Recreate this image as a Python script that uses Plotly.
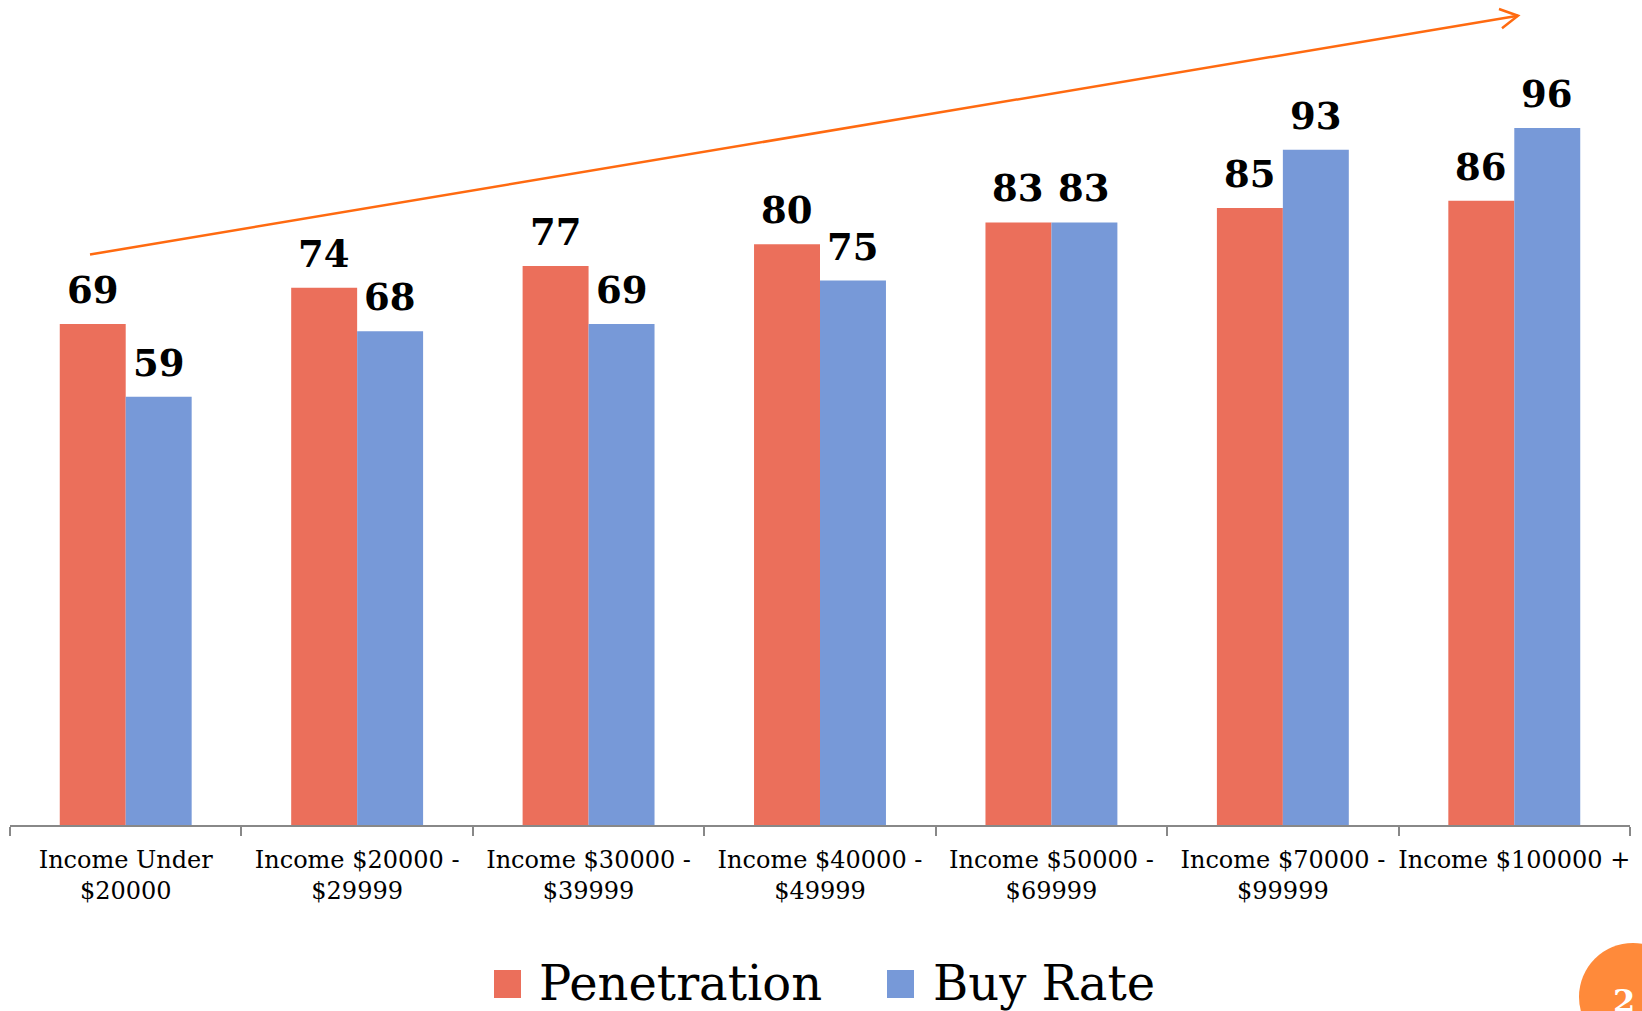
import plotly.graph_objects as go

# Income brackets and the two measures per bracket
categories = [
    "Income Under<br>$20000",
    "Income $20000 -<br>$29999",
    "Income $30000 -<br>$39999",
    "Income $40000 -<br>$49999",
    "Income $50000 -<br>$69999",
    "Income $70000 -<br>$99999",
    "Income $100000 +",
]
penetration = [69, 74, 77, 80, 83, 85, 86]
buy_rate = [59, 68, 69, 75, 83, 93, 96]

RED = "#EB6F5B"
BLUE = "#7799D8"
ORANGE = "#FF6A10"
SERIF = "DejaVu Serif, Liberation Serif, serif"

W, H = 1642, 1011
ML, MR, MT, MB = 10, 12, 0, 186
PW, PH = W - ML - MR, H - MT - MB


def px_x(x):
    return (x - ML) / PW


def px_y(y):
    return (H - MB - y) / PH


fig = go.Figure()
fig.add_trace(go.Bar(name="Penetration", x=categories, y=penetration,
                     marker=dict(color=RED, line=dict(width=0))))
fig.add_trace(go.Bar(name="Buy Rate", x=categories, y=buy_rate,
                     marker=dict(color=BLUE, line=dict(width=0))))

# Value labels above each bar
half = PW / len(categories) * (1 - 0.43) / 4
for series, shift in ((penetration, -half), (buy_rate, half)):
    for cat, v in zip(categories, series):
        fig.add_annotation(x=cat, y=v, xref="x", yref="y", text=f"<b>{v}</b>",
                           showarrow=False, xshift=shift, yanchor="bottom", yshift=10,
                           font=dict(family=SERIF, size=37, color="black"))

# Trend arrow across the top
x0, y0, x1, y1 = 90, 254.5, 1518, 15.7
fig.add_shape(type="line", xref="paper", yref="paper",
              x0=px_x(x0), y0=px_y(y0), x1=px_x(x1), y1=px_y(y1),
              line=dict(color=ORANGE, width=2.5))
fig.add_shape(type="path", xref="paper", yref="paper",
              path=(f"M{px_x(1499)},{px_y(9)} L{px_x(x1)},{px_y(y1)} "
                    f"L{px_x(1502)},{px_y(28.3)}"),
              line=dict(color=ORANGE, width=2.5))

# Custom legend with large swatches
legend_items = [("Penetration", RED, 494, 537), ("Buy Rate", BLUE, 887, 931)]
for label, color, sx, tx in legend_items:
    fig.add_shape(type="rect", xref="paper", yref="paper",
                  x0=px_x(sx), x1=px_x(sx + 27), y0=px_y(970), y1=px_y(998),
                  fillcolor=color, line=dict(width=0))
    fig.add_annotation(x=px_x(tx), y=px_y(983), xref="paper", yref="paper",
                       text=label, showarrow=False, xanchor="left", yanchor="middle",
                       font=dict(family=SERIF, size=48, color="black"))

# Page-number badge in the corner
cx, cy, r = 1633, 997, 54
fig.add_shape(type="circle", xref="paper", yref="paper",
              x0=px_x(cx - r), x1=px_x(cx + r), y0=px_y(cy + r), y1=px_y(cy - r),
              fillcolor="#FF8A3A", line=dict(width=0))
fig.add_annotation(x=px_x(1611), y=px_y(1001), xref="paper", yref="paper",
                   text="<b>2</b>", showarrow=False, xanchor="left", yanchor="middle",
                   font=dict(family=SERIF, size=32, color="white"))

fig.update_layout(
    width=W, height=H,
    margin=dict(l=ML, r=MR, t=MT, b=MB),
    paper_bgcolor="white", plot_bgcolor="white",
    barmode="group", bargap=0.43, bargroupgap=0,
    showlegend=False,
)
fig.update_xaxes(
    showline=True, linecolor="#888888", linewidth=2,
    ticks="outside", tickson="boundaries", ticklen=9, tickwidth=2, tickcolor="#888888",
    ticklabelstandoff=12,
    tickfont=dict(family=SERIF, size=24, color="black"),
    showgrid=False, tickangle=0,
)
fig.update_yaxes(visible=False, range=[0, (H - MB) / 7.26], showgrid=False)

fig.write_html("out.html")
